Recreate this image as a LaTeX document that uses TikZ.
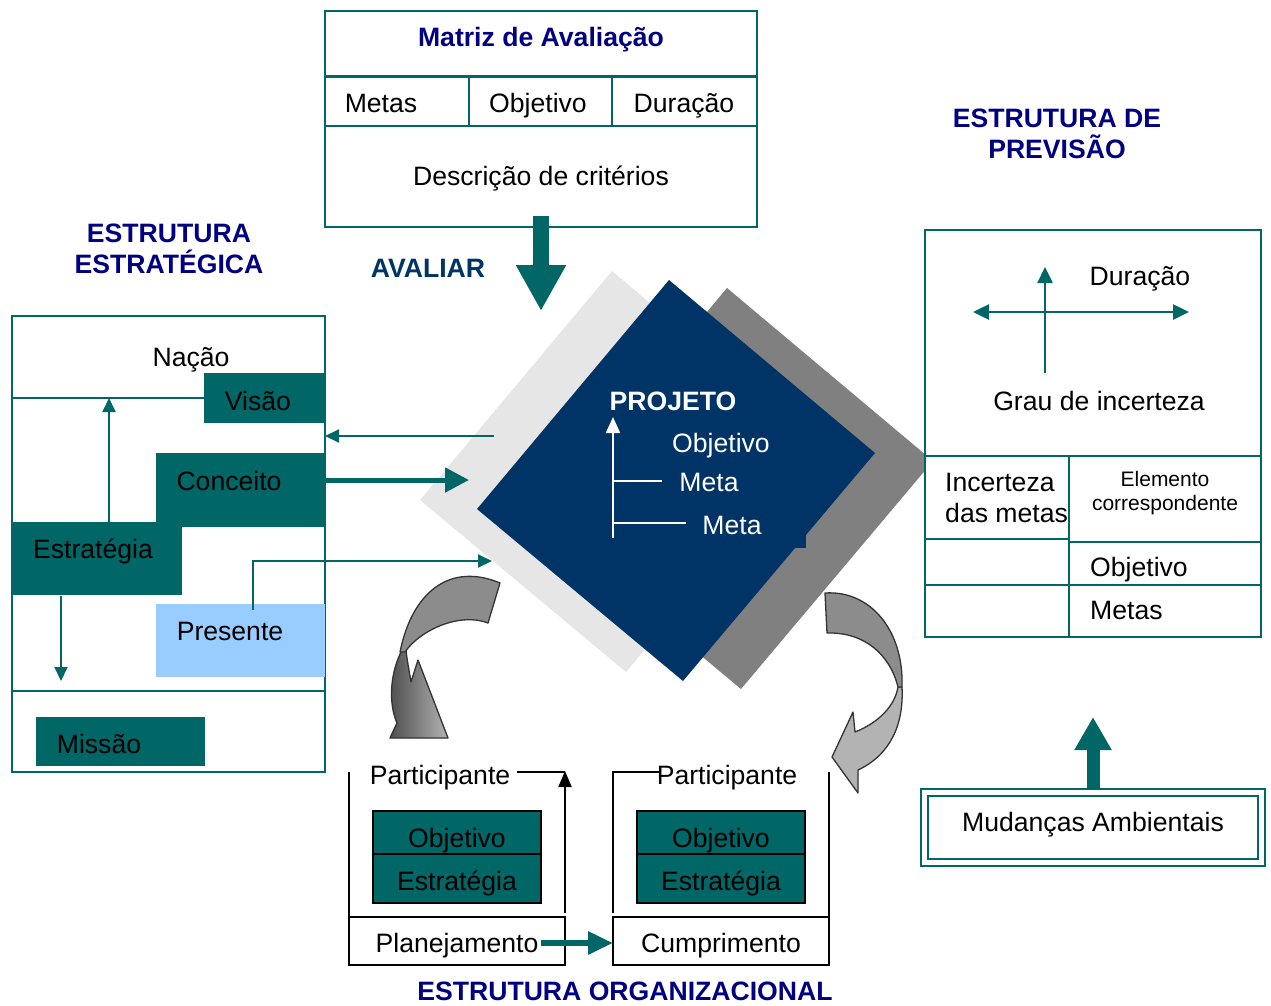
\documentclass[tikz,border=0pt]{standalone}
\usepackage{fontspec}
\setmainfont{Liberation Sans}
\usetikzlibrary{arrows.meta,calc}
\definecolor{tealc}{HTML}{006666}
\definecolor{navyc}{HTML}{000080}
\definecolor{avalc}{HTML}{003366}
\definecolor{dblue}{HTML}{003366}
\definecolor{lgray}{HTML}{E6E6E6}
\definecolor{dgray}{HTML}{808080}
\definecolor{lblue}{HTML}{99CCFF}
\definecolor{arrgray}{HTML}{8C8C8C}
\definecolor{arrlight}{HTML}{B3B3B3}
\definecolor{arrdark}{HTML}{4D4D4D}
\definecolor{arredge}{HTML}{333333}
\begin{document}
\begin{tikzpicture}[x=1pt,y=-1pt,
  txt/.style={font=\fontsize{26.6}{30}\selectfont, inner sep=0pt, text height=19pt, text depth=0pt},
  smalltxt/.style={font=\fontsize{21}{24}\selectfont, inner sep=0pt, align=center},
  hdr/.style={font=\fontsize{26.6}{31}\selectfont\bfseries, text=navyc, inner sep=0pt, align=center},
  wtxt/.style={txt, text=white},
  tline/.style={draw=tealc, line width=2pt},
  bline/.style={draw=black, line width=2pt},
  tarrow/.style={tealc, line width=2pt, -{Triangle[length=14pt,width=13pt]}},
  warrow/.style={white, line width=2pt, -{Triangle[length=16pt,width=14pt]}},
  barrow/.style={black, line width=2pt, -{Triangle[length=16pt,width=13pt]}},
  curvearrow/.style={draw=arredge, line width=1.3pt, line join=round},
]
\useasboundingbox (0,0) rectangle (1271,1005);

% ---------------- Top matrix ----------------
\draw[tline] (325,11) rectangle (757,227);
\draw[tealc, line width=3pt] (325,76.5) -- (757,76.5);
\draw[tline] (325,126) -- (757,126);
\draw[tline] (469,78) -- (469,126);
\draw[tline] (612,78) -- (612,126);
\node[hdr, text height=19pt, text depth=0pt] (matriz) at (541,37) {Matriz de Avaliação};
\node[txt] (mmetas) at (381,103) {Metas};
\node[txt] (mobj) at (538,103) {Objetivo};
\node[txt] (mdur) at (684,103) {Duração};
\node[txt] (mdesc) at (541,176) {Descrição de critérios};
\coordinate (avs) at (541,216);
\coordinate (ave) at (541,311);
\draw[tealc, line width=16pt, -{Triangle[length=46pt,width=47pt]}] (avs) -- (ave);
\node[font=\fontsize{26.6}{30}\selectfont\bfseries, text=avalc, inner sep=0pt, text height=19pt, text depth=0pt] (avaliar) at (428,268) {AVALIAR};

% ---------------- headers ----------------
\node[hdr] (estr) at (169,249) {ESTRUTURA\\ESTRATÉGICA};
\node[hdr] (prev) at (1057,134) {ESTRUTURA DE\\PREVISÃO};
\node[hdr, text height=19pt, text depth=0pt] (org) at (625,991) {ESTRUTURA ORGANIZACIONAL};

% ---------------- Diamonds ----------------
\fill[lgray] (612,271) -- (818,444) -- (626,672) -- (420,500) -- cycle;
\fill[dgray] (727,288) -- (933,461) -- (741,689) -- (535,517) -- cycle;
\fill[dblue] (669,280) -- (875,453) -- (683,681) -- (477,509) -- cycle;
\fill[dblue] (795,531) rectangle (806,548);
\node[font=\fontsize{26.6}{30}\selectfont\bfseries, text=white, inner sep=0pt, text height=19pt, text depth=0pt] (projeto) at (673,401) {PROJETO};
\coordinate (pa) at (613,538);
\coordinate (pb) at (613,417);
\draw[warrow] (pa) -- (pb);
\coordinate (m1) at (613,481);
\coordinate (m1e) at (662,481);
\coordinate (m2) at (613,523);
\coordinate (m2e) at (686,523);
\draw[white, line width=2pt] (m1) -- (m1e);
\draw[white, line width=2pt] (m2) -- (m2e);
\node[wtxt] (pobj) at (721,443) {Objetivo};
\node[wtxt] (pmeta1) at (709,482) {Meta};
\node[wtxt] (pmeta2) at (732,525) {Meta};

% ---------------- Left structure ----------------
\draw[tline] (12,316) rectangle (325,772);
\draw[tline] (12,398) -- (204,398);
\draw[tline] (12,691) -- (325,691);
\fill[tealc] (204,373) rectangle (325,423);
\fill[tealc] (156,453) rectangle (325,527);
\fill[tealc] (12,522) rectangle (182,595);
\fill[lblue] (156,604) rectangle (325,677);
\fill[tealc] (36,717) rectangle (205,766);
\node[txt] (nacao) at (191,357) {Nação};
\node[txt] (visao) at (258,401) {Visão};
\node[txt] (conceito) at (229,481) {Conceito};
\node[txt] (estrategia) at (93,549) {Estratégia};
\node[txt] (presente) at (230,631) {Presente};
\node[txt] (missao) at (99,744) {Missão};

\coordinate (eu1) at (109,522);
\coordinate (eu2) at (109,398);
\draw[tarrow] (eu1) -- (eu2);
\coordinate (ed1) at (61,596);
\coordinate (ed2) at (61,681);
\draw[tarrow] (ed1) -- (ed2);
\coordinate (pr1) at (253,610);
\coordinate (pr2) at (492,561);
\draw[tarrow] (pr1) |- (pr2);
\coordinate (dv1) at (494,436);
\coordinate (dv2) at (325,436);
\draw[tarrow] (dv1) -- (dv2);
\coordinate (cc1) at (325,480);
\coordinate (cc2) at (469,480);
\draw[tealc, line width=5pt, -{Triangle[length=24pt,width=24pt]}] (cc1) -- (cc2);

% ---------------- Right structure ----------------
\draw[tline, fill=white] (925,230) rectangle (1261,637);
\draw[tline] (925,456) -- (1261,456);
\draw[tline] (1069,456) -- (1069,637);
\draw[tline] (925,539) -- (1069,539);
\draw[tline] (1069,542) -- (1261,542);
\draw[tline] (925,585) -- (1261,585);
\coordinate (hx1) at (973,312);
\coordinate (hx2) at (1189,312);
\draw[tealc, line width=2.5pt, {Triangle[length=16pt,width=15pt]}-{Triangle[length=16pt,width=15pt]}] (hx1) -- (hx2);
\coordinate (vy1) at (1045,373);
\coordinate (vy2) at (1045,267);
\draw[tealc, line width=2.5pt, -{Triangle[length=16pt,width=15pt]}] (vy1) -- (vy2);
\node[txt] (rdur) at (1140,276) {Duração};
\node[txt] (rgrau) at (1099,401) {Grau de incerteza};
\node[inner sep=0pt, align=left, anchor=west, font=\fontsize{26.6}{31}\selectfont] (rinc) at (945,498) {Incerteza\\das metas};
\node[smalltxt] (relem) at (1165,493) {Elemento\\correspondente};
\node[txt, anchor=west] (robj) at (1090,567) {Objetivo};
\node[txt, anchor=west] (rmetas) at (1090,610) {Metas};

% ---------------- Mudancas ----------------
\draw[tealc, line width=2.5pt] (921,789) rectangle (1265,866);
\draw[tealc, line width=2pt] (928,796) rectangle (1258,859);
\node[txt] (mud) at (1093,822) {Mudanças Ambientais};
\coordinate (mu1) at (1093,789);
\coordinate (mu2) at (1093,717);
\draw[tealc, line width=13pt, -{Triangle[length=33pt,width=35pt]}] (mu1) -- (mu2);

% ---------------- Bottom organisation ----------------
\draw[bline] (349,772) -- (349,917);
\draw[bline] (349,917) rectangle (565,965);
\coordinate (la1) at (565,913);
\coordinate (la2) at (565,771);
\coordinate (la3) at (517,772);
\draw[barrow] (la1) -- (la2);
\draw[black, line width=2pt] (la3) -- (565,772);
\draw[black, line width=2pt, fill=tealc] (373,811) rectangle (541,854);
\draw[black, line width=2pt, fill=tealc] (373,854) rectangle (541,903);

\draw[bline] (613,913) -- (613,772) -- (660,772);
\draw[bline] (829,772) -- (829,917);
\draw[bline] (613,917) rectangle (829,965);
\draw[black, line width=2pt, fill=tealc] (637,811) rectangle (805,854);
\draw[black, line width=2pt, fill=tealc] (637,854) rectangle (805,903);

\node[txt] (part1) at (440,775) {Participante};
\node[txt] (part2) at (727,775) {Participante};
\node[txt] (obj1) at (457,838) {Objetivo};
\node[txt] (est1) at (457,881) {Estratégia};
\node[txt] (obj2) at (721,838) {Objetivo};
\node[txt] (est2) at (721,881) {Estratégia};
\node[txt] (plan) at (457,943) {Planejamento};
\node[txt] (cump) at (721,943) {Cumprimento};
\coordinate (pc1) at (541,943);
\coordinate (pc2) at (613,943);
\draw[tealc, line width=6pt, -{Triangle[length=25pt,width=22pt]}] (pc1) -- (pc2);

% ---------------- Curved arrows ----------------
\path[curvearrow, left color=arrdark, right color=arrlight]
  (402,650) .. controls (389,675) and (389,705) .. (397,723)
  -- (390,738) -- (448,738) -- (418,660) -- (411,682)
  .. controls (409,670) and (407,660) .. (406,650) -- cycle;
\path[curvearrow, fill=arrgray]
  (500,583) .. controls (450,562) and (412,592) .. (400,652)
  -- (405,652) .. controls (420,630) and (460,612) .. (488,623) -- cycle;

\path[curvearrow, fill=arrlight]
  (902,687) .. controls (904,725) and (890,755) .. (858,770)
  -- (858,793) -- (832,757) -- (853,712) -- (855,732)
  .. controls (880,722) and (895,705) .. (898,687) -- cycle;
\path[curvearrow, fill=arrgray]
  (825,593) .. controls (870,590) and (904,630) .. (902,687)
  -- (898,687) .. controls (890,655) and (865,632) .. (827,633) -- cycle;
\end{tikzpicture}
\end{document}
